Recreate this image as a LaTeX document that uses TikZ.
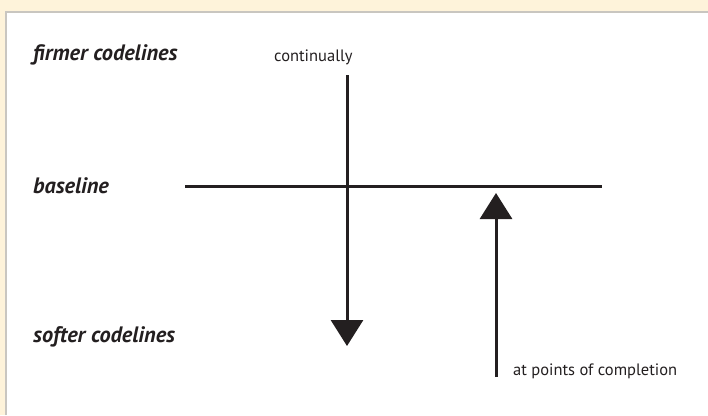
\documentclass[tikz,border=0pt]{standalone}
\usepackage{fontspec}
\setmainfont{PT Sans}
\usetikzlibrary{arrows.meta}
\definecolor{ink}{HTML}{231F20}
\definecolor{paper}{HTML}{FEF3DA}
\definecolor{rim}{HTML}{C9C6C0}

\begin{document}
\begin{tikzpicture}[
        x=1pt, y=-1pt,
        line/.style={draw=ink, line width=3pt},
        arrow/.style={line, -{Triangle[length=26pt,width=32pt]}},
        level/.style={anchor=base west, inner sep=0pt, text=ink,
                      font=\fontsize{22.3}{26}\selectfont\bfseries\itshape},
        note/.style={anchor=base west, inner sep=0pt, text=ink,
                     font=\fontsize{16.5}{19}\selectfont}
    ]
        \useasboundingbox (0,0) rectangle (708,415);
        \fill[paper] (0,0) rectangle (708,415);
        \fill[white] (6,12) rectangle (708,415);
        \draw[rim, line width=1.2pt] (6,415) -- (6,12) -- (708,12);

        \node[level] (firmer) at (33,60) {firmer codelines};
        \node[level] (base) at (33,193) {baseline};
        \node[level] (softer) at (33,342) {softer codelines};

        \node[note] (contin) at (274,61) {continually};
        \node[note] (completion) at (513,375) {at points of completion};

        \coordinate (basestart) at (185,186);
        \coordinate (baseend) at (602,186);
        \coordinate (downstart) at (347,75);
        \coordinate (downend) at (347,346);
        \coordinate (upstart) at (496,377);
        \coordinate (upend) at (496,193);

        \draw[line] (basestart) -- (baseend);
        \draw[arrow] (downstart) -- (downend);
        \draw[arrow] (upstart) -- (upend);
    \end{tikzpicture}
\end{document}
